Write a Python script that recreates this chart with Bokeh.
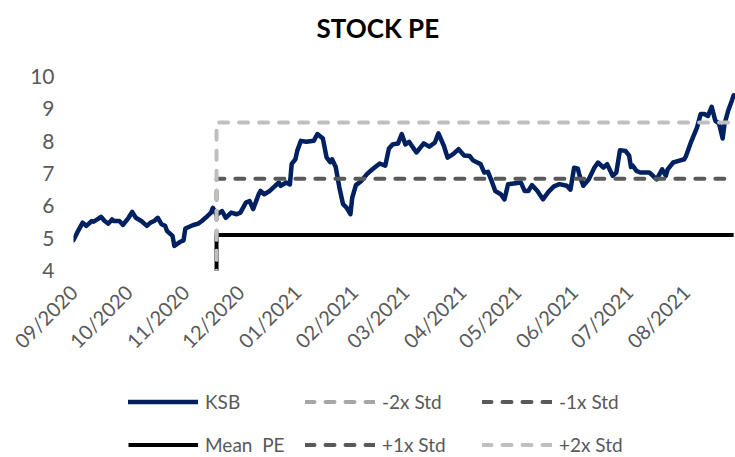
import pandas as pd
from bokeh.plotting import figure
from bokeh.layouts import column
from bokeh.models import (FixedTicker, DatetimeTickFormatter, Legend, LegendItem,
                          Title, Range1d, ColumnDataSource)
from bokeh.embed import file_html
from bokeh.resources import INLINE

# ---------------- data ----------------
dates = [
    "2020-09-01", "2020-09-03", "2020-09-06", "2020-09-08", "2020-09-11", "2020-09-12",
    "2020-09-14", "2020-09-16", "2020-09-18", "2020-09-20", "2020-09-22", "2020-09-23",
    "2020-09-26", "2020-09-28", "2020-10-01", "2020-10-03", "2020-10-05", "2020-10-08",
    "2020-10-11", "2020-10-13", "2020-10-15", "2020-10-17", "2020-10-19", "2020-10-21",
    "2020-10-22", "2020-10-25", "2020-10-26", "2020-10-29", "2020-10-31", "2020-11-01",
    "2020-11-05", "2020-11-08", "2020-11-10", "2020-11-12", "2020-11-15", "2020-11-16",
    "2020-11-18", "2020-11-21", "2020-11-23", "2020-11-26", "2020-11-29", "2020-12-01",
    "2020-12-04", "2020-12-06", "2020-12-08", "2020-12-11", "2020-12-12", "2020-12-14",
    "2020-12-17", "2020-12-20", "2020-12-22", "2020-12-23", "2020-12-26", "2020-12-28",
    "2020-12-29", "2020-12-31", "2021-01-01", "2021-01-03", "2021-01-06", "2021-01-10",
    "2021-01-12", "2021-01-15", "2021-01-17", "2021-01-19", "2021-01-20", "2021-01-22",
    "2021-01-24", "2021-01-26", "2021-01-28", "2021-01-30", "2021-01-31", "2021-02-02",
    "2021-02-05", "2021-02-08", "2021-02-11", "2021-02-15", "2021-02-18", "2021-02-20",
    "2021-02-22", "2021-02-25", "2021-02-27", "2021-03-01", "2021-03-03", "2021-03-07",
    "2021-03-11", "2021-03-14", "2021-03-17", "2021-03-19", "2021-03-22", "2021-03-24",
    "2021-03-27", "2021-03-30", "2021-04-02", "2021-04-05", "2021-04-07", "2021-04-11",
    "2021-04-13", "2021-04-15", "2021-04-17", "2021-04-19", "2021-04-22", "2021-04-24",
    "2021-04-26", "2021-04-30", "2021-05-03", "2021-05-05", "2021-05-07", "2021-05-09",
    "2021-05-12", "2021-05-15", "2021-05-18", "2021-05-21", "2021-05-24", "2021-05-28",
    "2021-05-30", "2021-06-01", "2021-06-03", "2021-06-04", "2021-06-06", "2021-06-09",
    "2021-06-12", "2021-06-14", "2021-06-17", "2021-06-19", "2021-06-22", "2021-06-24",
    "2021-06-26", "2021-06-29", "2021-07-01", "2021-07-02", "2021-07-03", "2021-07-05",
    "2021-07-07", "2021-07-10", "2021-07-12", "2021-07-14", "2021-07-16", "2021-07-19",
    "2021-07-21", "2021-07-22", "2021-07-25", "2021-07-28", "2021-07-31", "2021-08-01",
    "2021-08-04", "2021-08-07", "2021-08-09", "2021-08-11", "2021-08-13", "2021-08-15",
    "2021-08-17", "2021-08-19", "2021-08-21", "2021-08-22", "2021-08-24", "2021-08-26",
    "2021-08-27",
]
ksb_pe = [
    4.94, 5.17, 5.48, 5.38, 5.53, 5.51,
    5.58, 5.66, 5.53, 5.45, 5.58, 5.53,
    5.53, 5.41, 5.63, 5.81, 5.63, 5.53,
    5.38, 5.48, 5.53, 5.63, 5.43, 5.38,
    5.22, 5.07, 4.76, 4.88, 4.93, 5.30,
    5.40, 5.45, 5.53, 5.63, 5.79, 5.94,
    5.72, 5.84, 5.63, 5.79, 5.74, 5.79,
    6.10, 6.15, 5.90, 6.36, 6.46, 6.36,
    6.46, 6.62, 6.72, 6.62, 6.72, 6.66,
    7.30, 7.44, 7.70, 8.01, 7.98, 8.01,
    8.22, 8.08, 7.50, 7.35, 7.44, 7.20,
    6.56, 6.05, 5.94, 5.74, 6.25, 6.64,
    6.77, 6.98, 7.13, 7.31, 7.24, 7.77,
    7.90, 7.93, 8.22, 7.90, 7.98, 7.65,
    7.93, 7.83, 7.95, 8.24, 7.85, 7.49,
    7.60, 7.75, 7.56, 7.54, 7.40, 7.29,
    7.03, 7.05, 6.77, 6.46, 6.36, 6.20,
    6.67, 6.70, 6.72, 6.46, 6.46, 6.64,
    6.46, 6.20, 6.43, 6.60, 6.67, 6.62,
    6.50, 7.18, 7.15, 6.93, 6.62, 6.82,
    7.18, 7.34, 7.18, 7.29, 6.93, 7.03,
    7.72, 7.70, 7.55, 7.20, 7.24, 7.08,
    7.03, 7.03, 7.03, 6.93, 6.82, 7.13,
    6.93, 7.13, 7.34, 7.39, 7.44, 7.54,
    8.01, 8.42, 8.84, 8.84, 8.78, 9.06,
    8.63, 8.55, 8.08, 8.53, 8.94, 9.25,
    9.42,
]

band_start = "2020-11-18"
band_end = "2021-08-27"
band_floor = 0.0
mean_pe = 5.10
minus2_std = 1.62
minus1_std = 3.36
plus1_std = 6.84
plus2_std = 8.58

month_ticks = ["2020-09-01", "2020-10-01", "2020-11-01", "2020-12-01", "2021-01-01",
               "2021-02-01", "2021-03-01", "2021-04-01", "2021-05-01", "2021-06-01",
               "2021-07-01", "2021-08-01"]
y_ticks = [4, 5, 6, 7, 8, 9, 10]

x_start = "2020-09-01"
x_end = "2021-08-28"
y_min, y_max = 4, 10

series_names = ["KSB", "-2x Std", "-1x Std", "Mean  PE", "+1x Std", "+2x Std"]

# ---------------- styles ----------------
FONT = "Lato"
GREY_TXT = "#595959"
STYLES = {
    "KSB":      dict(line_color="#002060", line_width=4.5, line_join="round", line_cap="round"),
    "-2x Std":  dict(line_color="#a6a6a6", line_width=4, line_dash="9 11", line_cap="round"),
    "-1x Std":  dict(line_color="#595959", line_width=4, line_dash="9 11", line_cap="round"),
    "Mean  PE": dict(line_color="#000000", line_width=4),
    "+1x Std":  dict(line_color="#595959", line_width=4, line_dash="9 11", line_cap="round"),
    "+2x Std":  dict(line_color="#bfbfbf", line_width=4, line_dash="9 11", line_cap="round"),
}

# ---------------- main figure ----------------
p = figure(frame_width=662, frame_height=194, x_axis_type="datetime",
           x_range=Range1d(pd.Timestamp(x_start), pd.Timestamp(x_end)),
           y_range=Range1d(y_min, y_max), title=None,
           output_backend="svg", toolbar_location=None,
           min_border_left=73, min_border_right=0, min_border_top=76,
           min_border_bottom=0)
p.outline_line_color = None
p.grid.grid_line_color = None
p.background_fill_color = "white"
p.border_fill_color = "white"

src = ColumnDataSource(dict(x=pd.to_datetime(dates), y=ksb_pe))
p.line("x", "y", source=src, **STYLES["KSB"])

levels = {"-2x Std": minus2_std, "-1x Std": minus1_std, "Mean  PE": mean_pe,
          "+1x Std": plus1_std, "+2x Std": plus2_std}
for name in series_names[1:]:
    bx = pd.to_datetime([band_start, band_start, band_end])
    by = [band_floor, levels[name], levels[name]]
    p.line(bx, by, **STYLES[name])

p.xaxis.ticker = FixedTicker(ticks=[pd.Timestamp(t).value // 10**6 for t in month_ticks])
p.xaxis.formatter = DatetimeTickFormatter(days="%m/%Y", months="%m/%Y", years="%m/%Y")
p.xaxis.major_label_orientation = 0.785398
p.yaxis.ticker = FixedTicker(ticks=y_ticks)
for ax in (p.xaxis[0], p.yaxis[0]):
    ax.axis_line_color = None
    ax.major_tick_line_color = None
    ax.minor_tick_line_color = None
    ax.major_tick_out = 0
    ax.minor_tick_out = 0
    ax.major_label_text_font = FONT
    ax.major_label_text_color = GREY_TXT
p.yaxis.major_label_standoff = 19
p.yaxis.major_label_text_font_size = "21px"
p.xaxis.major_label_text_font_size = "20px"
p.xaxis.major_label_standoff = 18

# spacer (nearest the frame), then the real title above it
p.add_layout(Title(text=" ", text_font_size="10px", standoff=6), "above")
p.add_layout(Title(text="STOCK PE", text_font=FONT, text_font_style="bold",
                   text_font_size="26px", text_color="#000000", align="left",
                   offset=243, standoff=23, vertical_align="top"), "above")

# ---------------- legend strip ----------------
lg = figure(width=735, height=100, x_range=Range1d(0, 1), y_range=Range1d(0, 1),
            output_backend="svg", toolbar_location=None,
            x_axis_location=None, y_axis_location=None, min_border=0)
lg.outline_line_color = None
lg.grid.grid_line_color = None
proxy = {}
for name in series_names:
    # legend proxies: a single undefined point, so nothing shows in the strip
    proxy[name] = lg.line(x=[float("nan")], y=[float("nan")], **STYLES[name])

legend_columns = [["KSB", "Mean  PE"], ["-2x Std", "+1x Std"], ["-1x Std", "+2x Std"]]
column_x = [55, 232, 409]
for names, cx in zip(legend_columns, column_x):
    leg = Legend(items=[LegendItem(label=n, renderers=[proxy[n]]) for n in names],
                 orientation="vertical", location=(cx, 8),
                 glyph_width=70, glyph_height=19, label_height=19, label_standoff=7,
                 spacing=20, padding=0, margin=0,
                 label_text_font=FONT, label_text_font_size="19px",
                 label_text_color=GREY_TXT,
                 border_line_color=None, background_fill_alpha=0)
    lg.add_layout(leg, "center")

layout = column(p, lg, spacing=0)
open("out.html", "w").write(file_html(layout, INLINE))
